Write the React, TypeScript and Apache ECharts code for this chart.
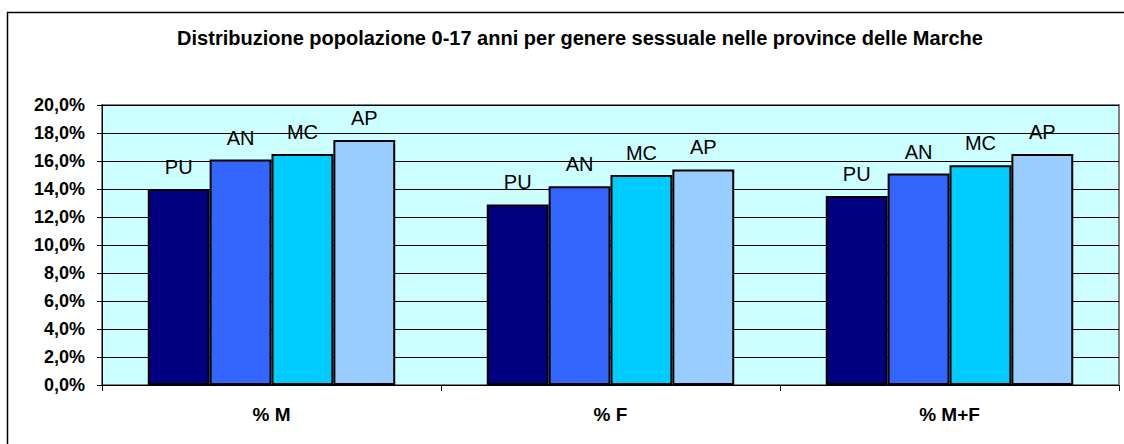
import React, { useEffect, useRef } from "react";
import * as echarts from "echarts";

const titleText = "Distribuzione popolazione 0-17 anni per genere sessuale nelle province delle Marche";
const categories = ["% M", "% F", "% M+F"];
const provinces = ["PU", "AN", "MC", "AP"];
const valuesPU = [14.0, 12.9, 13.5];
const valuesAN = [16.1, 14.2, 15.1];
const valuesMC = [16.5, 15.0, 15.7];
const valuesAP = [17.5, 15.4, 16.5];
const colors = ["#000080", "#3366FF", "#00CCFF", "#99CCFF"];

export default function App() {
  const ref = useRef<HTMLDivElement>(null);
  useEffect(() => {
    if (!ref.current) return;
    const chart = echarts.init(ref.current, null, { renderer: "svg" });
    const seriesData = [valuesPU, valuesAN, valuesMC, valuesAP];
    const font = "Arial, 'Liberation Sans', sans-serif";
    chart.setOption({
      animation: false,
      backgroundColor: "#ffffff",
      title: {
        text: titleText,
        left: 580,
        top: 28,
        textAlign: "center",
        padding: 0,
        textStyle: { fontFamily: font, fontWeight: "bold", fontSize: 20, color: "#000" },
      },
      graphic: [
        {
          type: "rect",
          shape: { x: 7.5, y: 12.5, width: 1146, height: 470 },
          style: { fill: "none", stroke: "#000", lineWidth: 1.5 },
          silent: true,
          z: -1,
        },
      ],
      grid: {
        left: 102,
        right: 5,
        top: 105,
        bottom: 59,
        show: true,
        backgroundColor: "#CCFFFF",
        borderColor: "#808080",
        borderWidth: 2,
      },
      xAxis: {
        type: "category",
        data: categories,
        axisLine: { show: true, lineStyle: { color: "#000", width: 1 } },
        axisTick: { show: true, length: 6, lineStyle: { color: "#000" } },
        axisLabel: {
          margin: 20,
          fontFamily: font,
          fontWeight: "bold",
          fontSize: 19,
          color: "#000",
        },
      },
      yAxis: {
        type: "value",
        min: 0,
        max: 20,
        interval: 2,
        axisLine: { show: true, lineStyle: { color: "#000", width: 1 } },
        axisTick: { show: true, length: 5, lineStyle: { color: "#000" } },
        splitLine: { show: true, lineStyle: { color: "#000", width: 1 } },
        axisLabel: {
          margin: 17,
          fontFamily: font,
          fontWeight: "bold",
          fontSize: 18,
          color: "#000",
          formatter: (v: number) => v.toFixed(1).replace(".", ",") + "%",
        },
      },
      series: provinces.map((name, i) => ({
        name,
        type: "bar",
        data: seriesData[i],
        barGap: "0%",
        barCategoryGap: "27%",
        itemStyle: { color: colors[i], borderColor: "#000", borderWidth: 2 },
        label: {
          show: true,
          position: "top",
          distance: 12,
          formatter: name,
          fontFamily: font,
          fontSize: 20,
          color: "#000",
        },
      })),
    });
    return () => chart.dispose();
  }, []);
  return (
    <div
      ref={ref}
      style={{ position: "absolute", left: 0, top: 0, width: 1124, height: 444 }}
    />
  );
}
